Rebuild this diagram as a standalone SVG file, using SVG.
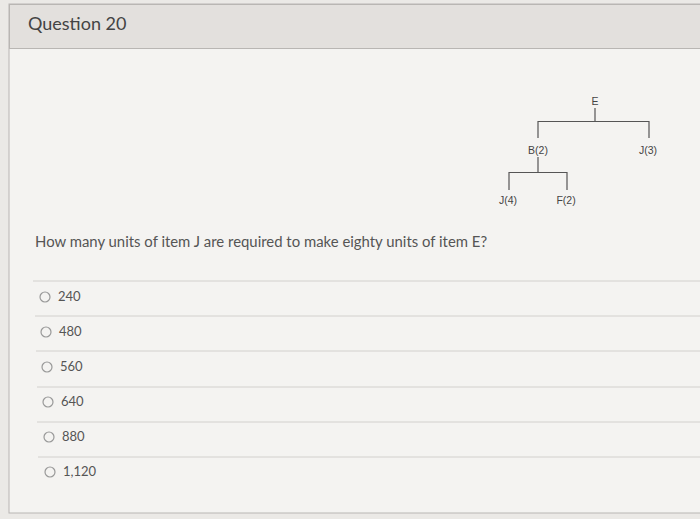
<svg xmlns="http://www.w3.org/2000/svg" width="700" height="519" viewBox="0 0 700 519">
<style>
.lab{font-family:"Liberation Sans",Arial,sans-serif;font-size:10.5px;fill:#444;text-anchor:middle}
.opt{font-family:Lato,"Liberation Sans",sans-serif;font-size:13px;fill:#555}
.sep{stroke:#d2d0cd;stroke-width:1}
.radio{fill:#f4f3f1;stroke:#999;stroke-width:1.2}
.tree{fill:none;stroke:#555;stroke-width:1.2}
</style>
<rect x="0" y="0" width="700" height="519" fill="#ebe9e6"/>
<rect x="9" y="4" width="700" height="509" fill="#f4f3f1" stroke="#b9b6b3" stroke-width="1"/>
<rect x="9.5" y="4.5" width="700" height="44" fill="#e3e0dd" stroke="#b9b6b3" stroke-width="1"/>
<text x="28" y="30" font-family="Lato,'Liberation Sans',sans-serif" font-size="18" fill="#444">Question 20</text>
<text x="35" y="247" font-family="Lato,'Liberation Sans',sans-serif" font-size="14.9" fill="#555">How many units of item J are required to make eighty units of item E?</text>
<g id="connectors">
<path class="tree" d="M595 108V121.5M538 138V121.5H649V138"/>
<path class="tree" d="M538 157V172.5M509 190V172.5H567V190"/>
</g>
<g id="E"><text class="lab" x="595" y="105">E</text></g>
<g id="B2"><text class="lab" x="538" y="154">B(2)</text></g>
<g id="J3"><text class="lab" x="648" y="154">J(3)</text></g>
<g id="J4"><text class="lab" x="508" y="204">J(4)</text></g>
<g id="F2"><text class="lab" x="566" y="204">F(2)</text></g>
<g id="options">
<line class="sep" x1="33" y1="281" x2="700" y2="281"/>
<line class="sep" x1="35" y1="316" x2="700" y2="316"/>
<line class="sep" x1="36" y1="351" x2="700" y2="351"/>
<line class="sep" x1="37" y1="387" x2="700" y2="387"/>
<line class="sep" x1="37" y1="422" x2="700" y2="422"/>
<line class="sep" x1="38" y1="457" x2="700" y2="457"/>
<circle class="radio" cx="45" cy="297" r="5"/><text class="opt" x="58" y="301">240</text>
<circle class="radio" cx="46" cy="332" r="5"/><text class="opt" x="59" y="336">480</text>
<circle class="radio" cx="47" cy="367" r="5"/><text class="opt" x="60" y="371">560</text>
<circle class="radio" cx="48" cy="402" r="5"/><text class="opt" x="61" y="406">640</text>
<circle class="radio" cx="49" cy="437" r="5"/><text class="opt" x="62" y="441">880</text>
<circle class="radio" cx="50" cy="472" r="5"/><text class="opt" x="63" y="476">1,120</text>
</g>
</svg>
